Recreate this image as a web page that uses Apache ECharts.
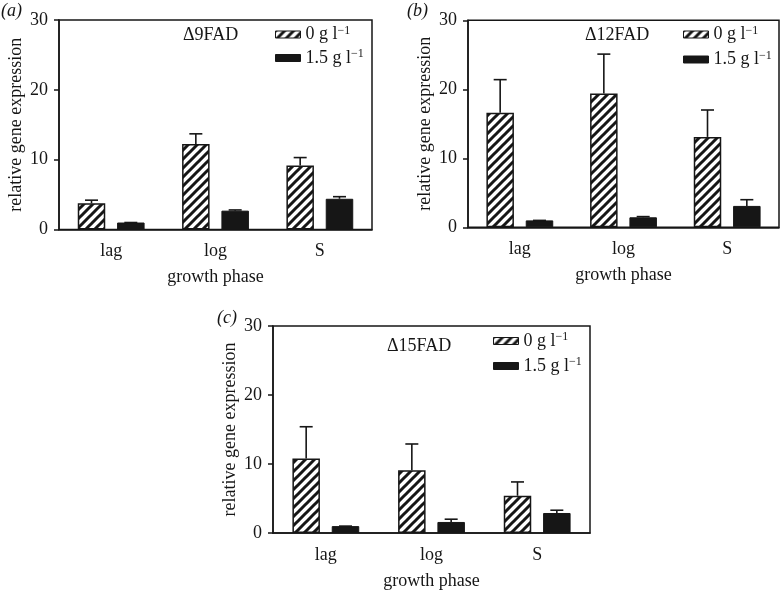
<!DOCTYPE html>
<html>
<head>
<meta charset="utf-8">
<script src="https://cdn.jsdelivr.net/npm/echarts@6/dist/echarts.min.js"></script>
<style>html,body{margin:0;padding:0;background:#fff}#c{width:784px;height:591px}</style>
</head>
<body>
<div id="c"></div>
<script>
// ---- data ----
const categories = ['lag', 'log', 'S'];
const seriesNames = ['0 g l\u22121', '1.5 g l\u22121'];
const panelLabels = ['(a)', '(b)', '(c)'];
const geneNames = ['\u03949FAD', '\u039412FAD', '\u039415FAD'];
const yMin = 0, yMax = 30, yStep = 10;

const a0 = [3.75, 12.25, 9.15];
const a0sd = [0.45, 1.45, 1.15];
const a15 = [1.0, 2.7, 4.4];
const a15sd = [0, 0.1, 0.3];

const b0 = [16.6, 19.4, 13.1];
const b0sd = [4.8, 5.7, 3.9];
const b15 = [1.0, 1.45, 3.1];
const b15sd = [0, 0.1, 0.9];

const c0 = [10.8, 9.1, 5.4];
const c0sd = [4.6, 3.8, 2.0];
const c15 = [1.0, 1.6, 2.9];
const c15sd = [0, 0.4, 0.4];

// ---- layout / style ----
const FONT = "'Liberation Serif', 'Times New Roman', serif";
const INK = '#161616';
const BAR_W = 27.5, BAR_GAP = '43%';
const OFF = (27.5 + 27.5 * 0.43) / 2;

const panels = [
  {v0: a0, s0: a0sd, v1: a15, s1: a15sd,
   grid: {left: 59, top: 20, width: 313, height: 209.5},
   label: {left: 1, top: 2}, gene: {left: 183, top: 26},
   leg: {left: 275, top1: 24.5, top2: 48}},
  {v0: b0, s0: b0sd, v1: b15, s1: b15sd,
   grid: {left: 468, top: 20.3, width: 311, height: 207},
   label: {left: 407, top: 2}, gene: {left: 585, top: 26},
   leg: {left: 683, top1: 24.5, top2: 49.5}},
  {v0: c0, s0: c0sd, v1: c15, s1: c15sd,
   grid: {left: 273, top: 326, width: 317, height: 210.5},
   label: {left: 217, top: 309}, gene: {left: 387, top: 337},
   leg: {left: 493, top1: 331, top2: 356}}
];

function hatch() {
  const s = 9;
  const c = document.createElement('canvas');
  c.width = s; c.height = s;
  const g = c.getContext('2d');
  g.fillStyle = '#fff'; g.fillRect(0, 0, s, s);
  g.strokeStyle = INK; g.lineWidth = 3;
  g.beginPath();
  g.moveTo(0, s); g.lineTo(s, 0);
  g.moveTo(-s / 2, s / 2); g.lineTo(s / 2, -s / 2);
  g.moveTo(s / 2, s * 1.5); g.lineTo(s * 1.5, s / 2);
  g.stroke();
  return c;
}
const pattern = {image: hatch(), repeat: 'repeat'};

function errRender(offset) {
  return function (params, api) {
    const k = api.value(0), m = api.value(1), sd = api.value(2);
    const p0 = api.coord([k, m]);
    const p1 = api.coord([k, m + sd]);
    const x = p0[0] + offset;
    const st = {stroke: INK, lineWidth: 1.6};
    return {type: 'group', children: [
      {type: 'line', shape: {x1: x, y1: p0[1], x2: x, y2: p1[1]}, style: st},
      {type: 'line', shape: {x1: x - 6.5, y1: p1[1], x2: x + 6.5, y2: p1[1]}, style: st}
    ]};
  };
}

const richText = {
  n: {fontSize: 18, fontFamily: FONT, color: INK, lineHeight: 20},
  s: {fontSize: 12, fontFamily: FONT, color: INK, lineHeight: 20, verticalAlign: 'top', padding: [0, 0, 0, 0]}
};
function legFmt(name) {
  const parts = name.split(' l');
  return '{n|' + parts[0] + ' l}{s|' + parts[1] + '}';
}

const grids = [], xAxes = [], yAxes = [], series = [], titles = [], legends = [];
panels.forEach((p, i) => {
  grids.push(Object.assign({show: true, borderColor: INK, borderWidth: 1.5, backgroundColor: 'transparent'}, p.grid));
  xAxes.push({
    type: 'category', gridIndex: i, data: categories,
    axisLine: {lineStyle: {color: INK, width: 1.5}},
    axisTick: {show: false},
    axisLabel: {fontSize: 18, fontFamily: FONT, color: INK, margin: 13},
    name: 'growth phase', nameLocation: 'middle', nameGap: 39,
    nameTextStyle: {fontSize: 18, fontFamily: FONT, color: INK}
  });
  yAxes.push({
    type: 'value', gridIndex: i, min: yMin, max: yMax, interval: yStep,
    axisLine: {show: true, lineStyle: {color: INK, width: 1.5}},
    axisTick: {show: true, length: 5, lineStyle: {color: INK, width: 1.5}},
    splitLine: {show: false},
    axisLabel: {fontSize: 18, fontFamily: FONT, color: INK, margin: 11},
    name: 'relative gene expression', nameLocation: 'middle', nameGap: 34,
    nameTextStyle: {fontSize: 18, fontFamily: FONT, color: INK}
  });
  series.push({
    type: 'bar', name: seriesNames[0], xAxisIndex: i, yAxisIndex: i,
    data: p.v0, barWidth: BAR_W, barGap: BAR_GAP,
    itemStyle: {color: pattern, borderColor: INK, borderWidth: 1.5}
  });
  series.push({
    type: 'bar', name: seriesNames[1], xAxisIndex: i, yAxisIndex: i,
    data: p.v1, barWidth: BAR_W, barGap: BAR_GAP,
    itemStyle: {color: INK, borderColor: INK, borderWidth: 1}
  });
  series.push({
    type: 'custom', name: 'err0_' + i, xAxisIndex: i, yAxisIndex: i, z: 10,
    data: p.v0.map((v, k) => [k, v, p.s0[k]]),
    encode: {x: 0, y: 1}, renderItem: errRender(-OFF)
  });
  series.push({
    type: 'custom', name: 'err1_' + i, xAxisIndex: i, yAxisIndex: i, z: 10,
    data: p.v1.map((v, k) => [k, v, p.s1[k]]),
    encode: {x: 0, y: 1}, renderItem: errRender(OFF)
  });
  titles.push({text: panelLabels[i], left: p.label.left, top: p.label.top, padding: 0,
    textStyle: {fontSize: 18, fontStyle: 'italic', fontWeight: 'normal', fontFamily: FONT, color: INK}});
  titles.push({text: geneNames[i], left: p.gene.left, top: p.gene.top, padding: 0,
    textStyle: {fontSize: 18, fontWeight: 'normal', fontFamily: FONT, color: INK}});
  [0, 1].forEach(j => {
    legends.push({
      data: [seriesNames[j]], left: p.leg.left, top: j === 0 ? p.leg.top1 : p.leg.top2,
      padding: 0, itemWidth: 25, itemHeight: 7, selectedMode: false, icon: 'rect',
      itemStyle: {borderColor: INK, borderWidth: 1},
      formatter: legFmt, textStyle: {rich: richText}
    });
  });
});

const chart = echarts.init(document.getElementById('c'), null, {renderer: 'canvas'});
chart.setOption({
  animation: false,
  backgroundColor: '#fff',
  title: titles,
  legend: legends,
  grid: grids,
  xAxis: xAxes,
  yAxis: yAxes,
  series: series
});
</script>
</body>
</html>
